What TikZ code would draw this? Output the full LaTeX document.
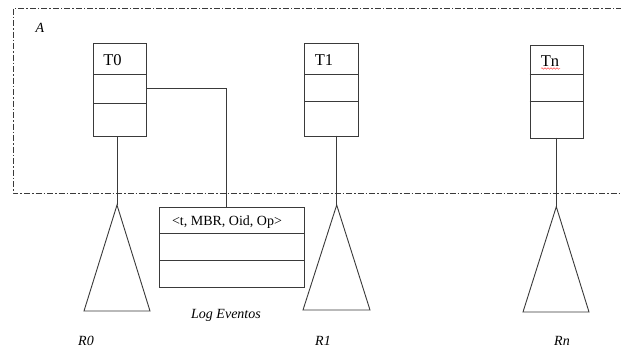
\documentclass[tikz,border=0pt]{standalone}
\usepackage{fontspec}
\setmainfont{Liberation Serif}
\usetikzlibrary{decorations.pathmorphing}
\definecolor{ink}{HTML}{3A3A3A}
\tikzset{
  edge/.style={draw=ink, line width=0.9pt},
  frame/.style={draw=ink, line width=0.8pt, dash pattern=on 6pt off 2pt on 1.5pt off 2pt},
  tablebox/.style={draw=ink, line width=0.9pt, rectangle, anchor=north west, inner sep=0pt},
  tlabel/.style={font=\fontsize{16.5}{18}\selectfont, inner sep=0pt},
  smalllabel/.style={font=\fontsize{14}{16}\selectfont, inner sep=0pt},
  itlabel/.style={font=\fontsize{14}{16}\selectfont\itshape, inner sep=0pt},
  tree/.style={draw=ink, line width=0.9pt}
}
\begin{document}
\begin{tikzpicture}[x=1pt,y=-1pt]
\useasboundingbox (0,0) rectangle (621,349);
\fill[white] (0,0) rectangle (621,349);

% region A (open to the right)
\draw[frame] (622,8) -- (13,8) -- (13,193) -- (622,193);
\node[itlabel] (la) at (40,28) {A};

% tables T0, T1, Tn
\node[tablebox, minimum width=53pt, minimum height=93pt] (t0) at (93,43) {};
\draw[edge] (93,74.5) -- (146,74.5) (93,103.5) -- (146,103.5);
\node[tlabel] (lt0) at (112.5,60) {T0};

\node[tablebox, minimum width=54pt, minimum height=93pt] (t1) at (304,42.5) {};
\draw[edge] (304,74.5) -- (358,74.5) (304,101) -- (358,101);
\node[tlabel] (lt1) at (324,60) {T1};

\node[tablebox, minimum width=53.3pt, minimum height=93pt] (tn) at (529.7,44.5) {};
\draw[edge] (529.7,74.5) -- (583,74.5) (529.7,101) -- (583,101);
\node[tlabel] (ltn) at (550,61) {Tn};
\draw[red!70, line width=0.5pt, decorate, decoration={snake, amplitude=0.8pt, segment length=3pt}] (541,68.5) -- (560,68.5);

% event log table
\node[tablebox, minimum width=145pt, minimum height=80pt] (log) at (159,207) {};
\draw[edge] (159,233.7) -- (304,233.7) (159,260.3) -- (304,260.3);
\node[smalllabel] (lrec) at (227,222) {<t, MBR, Oid, Op>};
\node[itlabel] (llog) at (226,315) {Log Eventos};

% trees R0, R1, Rn
\coordinate (r0) at (117,205);
\coordinate (r1) at (336.7,205);
\coordinate (rn) at (556.3,206.7);
\draw[tree] (r0) -- (84,311) -- (150,311) -- cycle;
\draw[tree] (r1) -- (303,310) -- (370,310) -- cycle;
\draw[tree] (rn) -- (523,312) -- (589,312) -- cycle;
\node[itlabel] (lr0) at (86,341) {R0};
\node[itlabel] (lr1) at (323,341) {R1};
\node[itlabel] (lrn) at (562,341) {Rn};

% connectors
\coordinate (t0e) at (146,88);
\draw[edge] (t0e) -- (226,88) -- (226,207);
\draw[edge] (117,136) -- (r0);
\draw[edge] (336.7,135.5) -- (r1);
\draw[edge] (556.3,137.5) -- (rn);
\end{tikzpicture}
\end{document}
